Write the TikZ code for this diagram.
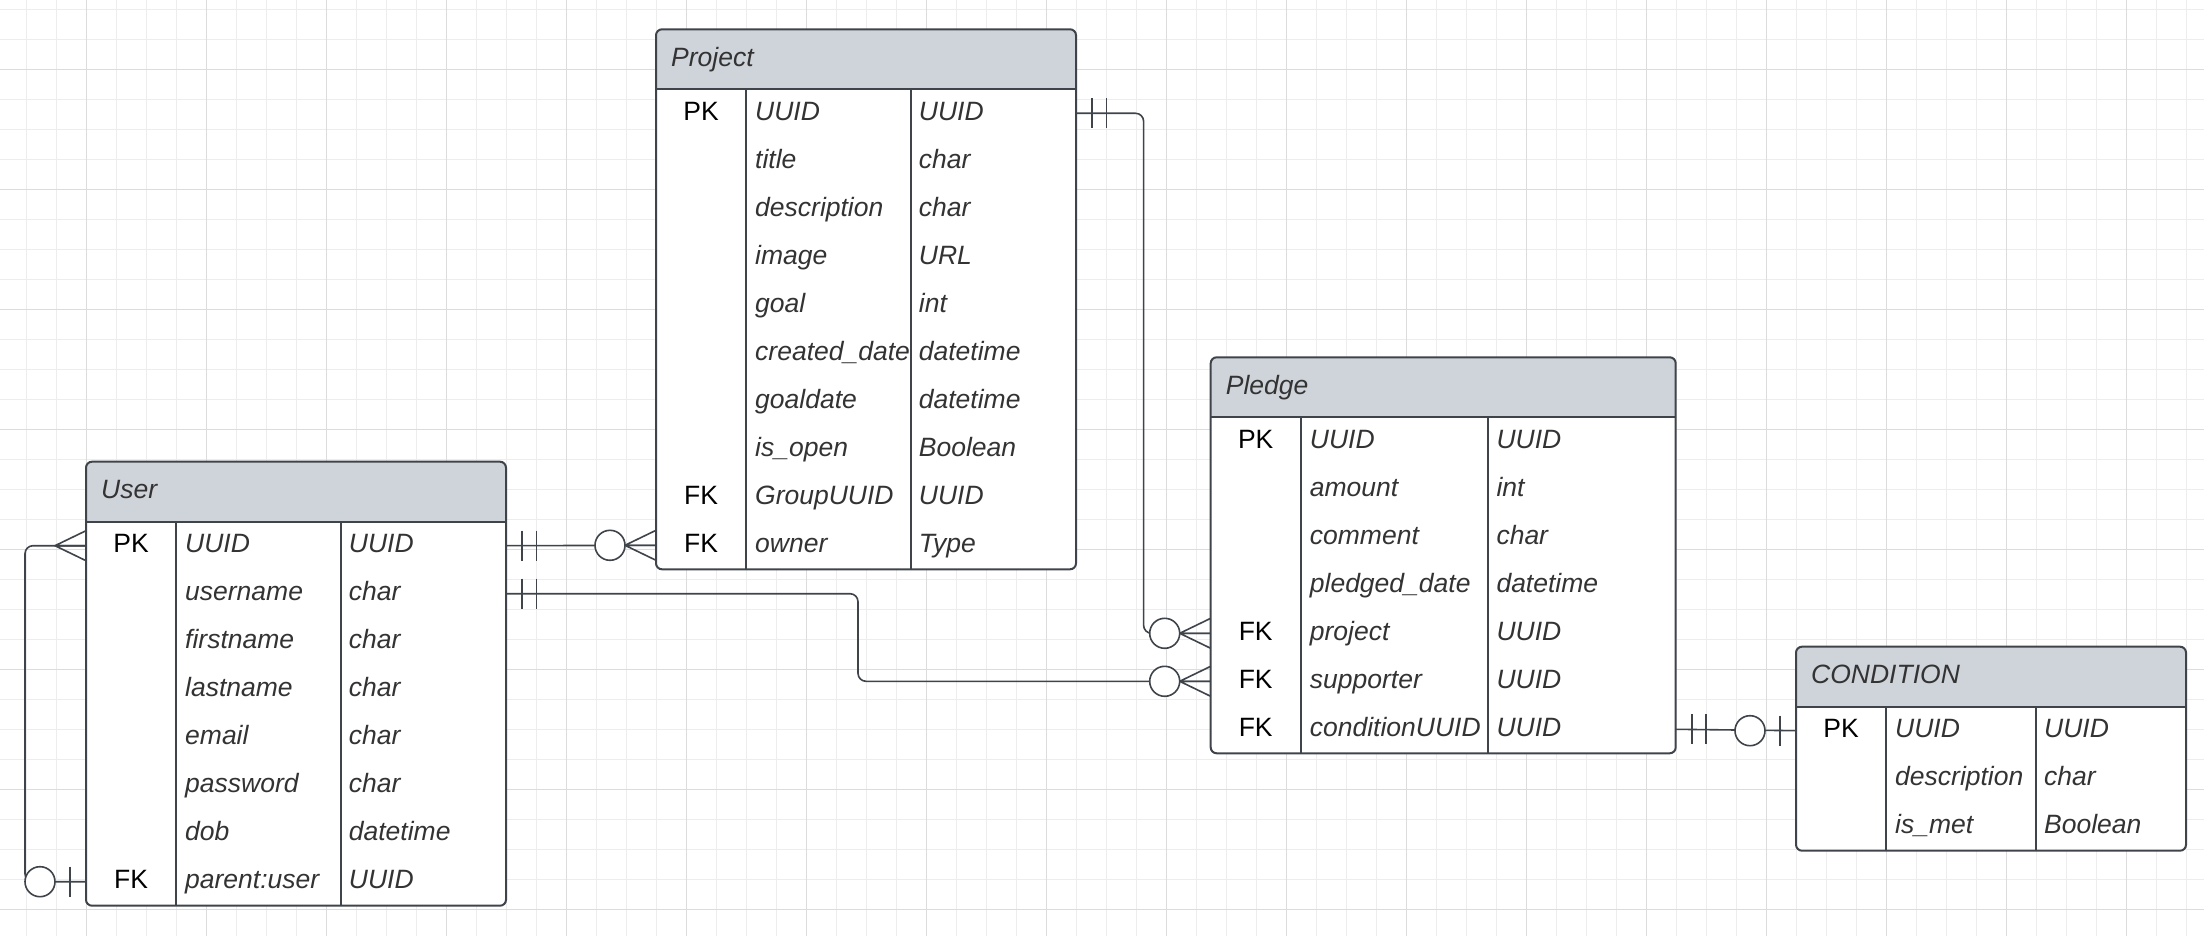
\documentclass[tikz,border=0pt]{standalone}
\usepackage{fontspec}
\setmainfont{Liberation Sans}
\usepackage{tikz}
\usetikzlibrary{calc}

\definecolor{gridminor}{HTML}{EDEDED}
\definecolor{gridmajor}{HTML}{DCDCDC}
\definecolor{headfill}{HTML}{CFD3DA}
\definecolor{linegray}{HTML}{3F444B}
\definecolor{textgray}{HTML}{333333}

\tikzset{
  entity/.style={rectangle, fill=headfill, inner sep=0, outer sep=0, rounded corners=6pt},
  entityline/.style={draw=linegray, line width=2pt},
  relline/.style={draw=linegray, line width=1.6pt},
  cell/.style={inner sep=0, text height=19pt, text depth=5.3pt, font=\fontsize{26.5}{32}\selectfont},
  keycell/.style={cell, text=black},
  namecell/.style={cell, anchor=west, text=textgray, font=\fontsize{26.5}{32}\selectfont\itshape},
}

% name, corner, width, rows, name column width, title, fields
\newcommand{\erentity}[7]{%
  \node[entity, minimum width=#3pt, minimum height={60pt+48pt*#4}, anchor=north west] (#1) at (#2) {};
  \coordinate (#1-hw) at ($(#1.north west)+(0,60)$);
  \coordinate (#1-he) at ($(#1.north east)+(0,60)$);
  \fill[white, rounded corners=6pt] (#1-hw) -- (#1.south west) -- (#1.south east) -- (#1-he);
  \draw[entityline, rounded corners=6pt] (#1.north west) rectangle (#1.south east);
  \draw[entityline] (#1-hw) -- (#1-he)
    ($(#1-hw)+(90,0)$) -- ($(#1.south west)+(90,0)$)
    ($(#1-hw)+(90+#5,0)$) -- ($(#1.south west)+(90+#5,0)$);
  \node[namecell] (#1-title) at ($(#1.north west)+(15,30)$) {#6};
  \foreach \colA/\colB/\colC [count=\i] in {#7} {
    \node[keycell] (#1-k\i) at ($(#1.north west)+(45,36+48*\i)$) {\colA};
    \node[namecell] (#1-n\i) at ($(#1-k\i)+(54,0)$) {\colB};
    \node[namecell] (#1-t\i) at ($(#1-k\i)+(53+#5,0)$) {\colC};
  }%
}

% relationship ends, #2 = 1 to the right, -1 to the left
\newcommand{\crowfoot}[2]{\draw[relline, shift={(#1)}, xscale=#2] (0,-15) -- (31,0) -- (0,15) (0,0) -- (31,0);}
\newcommand{\twobars}[2]{\draw[relline, shift={(#1)}, xscale=#2] (16,-15) -- (16,15) (30.5,-15) -- (30.5,15);}
\newcommand{\onebar}[2]{\draw[relline, shift={(#1)}, xscale=#2] (16,-15) -- (16,15);}
\newcommand{\ringmark}[2]{\draw[relline, fill=white, shift={(#1)}, xscale=#2] (46,0) circle[radius=15];}

\begin{document}
\begin{tikzpicture}[x=1pt, y=-1pt]
  \fill[white] (0,0) rectangle (2204,936);
  \useasboundingbox (0,0) rectangle (2204,936);

  % grid
  \foreach \gx in {0,...,72}
    \draw[gridminor, line width=1pt] (26.7+30*\gx,0) -- (26.7+30*\gx,936);
  \foreach \gy in {0,...,30}
    \draw[gridminor, line width=1pt] (0,9.3+30*\gy) -- (2204,9.3+30*\gy);
  \foreach \gx in {0,...,17}
    \draw[gridmajor, line width=1.3pt] (86.7+120*\gx,0) -- (86.7+120*\gx,936);
  \foreach \gy in {0,...,7}
    \draw[gridmajor, line width=1.3pt] (0,69.3+120*\gy) -- (2204,69.3+120*\gy);

  \erentity{project}{656,29.3}{420}{10}{164.7}{Project}{PK/UUID/UUID, {}/title/char,
    {}/description/char, {}/image/URL, {}/goal/int, {}/created\_date/datetime,
    {}/goaldate/datetime, {}/is\_open/Boolean, FK/GroupUUID/UUID, FK/owner/Type}
  \erentity{user}{86,461.7}{420}{8}{164.7}{User}{PK/UUID/UUID, {}/username/char,
    {}/firstname/char, {}/lastname/char, {}/email/char, {}/password/char,
    {}/dob/datetime, FK/parent:user/UUID}
  \erentity{pledge}{1210.7,357.3}{465}{7}{187.6}{Pledge}{PK/UUID/UUID, {}/amount/int,
    {}/comment/char, {}/pledged\_date/datetime, FK/project/UUID, FK/supporter/UUID,
    FK/conditionUUID/UUID}
  \erentity{condition}{1796,646.7}{390}{3}{150}{CONDITION}{PK/UUID/UUID,
    {}/description/char, {}/is\_met/Boolean}

  % relationships
  \draw[relline] (user.east |- user-k1) -- (project.west |- project-k10);
  \draw[relline, rounded corners=8pt] (user.east |- user-k2) -- ++(352,0) |- (pledge.west |- pledge-k6);
  \draw[relline, rounded corners=8pt] (project.east |- project-k1) -- ++(67.6,0) |- (pledge.west |- pledge-k5);
  \draw[relline] (pledge.east |- pledge-k7) -- (condition.west |- condition-k1);
  \draw[relline, rounded corners=8pt] (user.west |- user-k1) -- ++(-61,0) |- (user.west |- user-k8);

  \twobars{user.east |- user-k1}{1}
  \twobars{user.east |- user-k2}{1}
  \crowfoot{project.west |- project-k10}{-1}
  \ringmark{project.west |- project-k10}{-1}
  \twobars{project.east |- project-k1}{1}
  \crowfoot{pledge.west |- pledge-k5}{-1}
  \ringmark{pledge.west |- pledge-k5}{-1}
  \crowfoot{pledge.west |- pledge-k6}{-1}
  \ringmark{pledge.west |- pledge-k6}{-1}
  \twobars{pledge.east |- pledge-k7}{1}
  \onebar{condition.west |- condition-k1}{-1}
  \ringmark{condition.west |- condition-k1}{-1}
  \crowfoot{user.west |- user-k1}{-1}
  \onebar{user.west |- user-k8}{-1}
  \ringmark{user.west |- user-k8}{-1}
\end{tikzpicture}
\end{document}
